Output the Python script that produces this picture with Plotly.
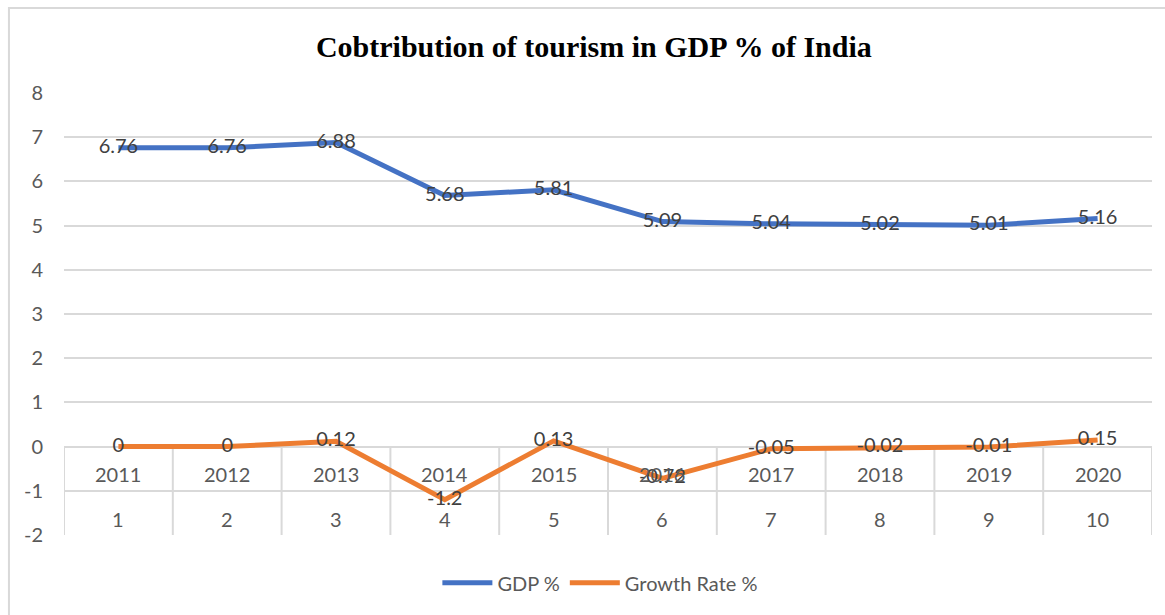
import plotly.graph_objects as go

years = ["2011", "2012", "2013", "2014", "2015", "2016", "2017", "2018", "2019", "2020"]
index_labels = ["1", "2", "3", "4", "5", "6", "7", "8", "9", "10"]
gdp = [6.76, 6.76, 6.88, 5.68, 5.81, 5.09, 5.04, 5.02, 5.01, 5.16]
growth = [0, 0, 0.12, -1.2, 0.13, -0.72, -0.05, -0.02, -0.01, 0.15]
ytick_vals = [-2, -1, 0, 1, 2, 3, 4, 5, 6, 7, 8]
ytick_text = ["-2", "-1", "0", "1", "2", "3", "4", "5", "6", "7", "8"]

xpos = list(range(1, len(years) + 1))
FONT = "Lato, Calibri, Arial, sans-serif"
GRID = "#d9d9d9"
TXT = "#595959"
LBL = "#404040"

fig = go.Figure()
fig.add_trace(go.Scatter(
    x=xpos, y=gdp, name="GDP %", mode="lines+text",
    line=dict(color="#4472C4", width=5),
    text=[f"{v:g}" for v in gdp], textposition="middle center",
    textfont=dict(family=FONT, size=20, color=LBL),
))
fig.add_trace(go.Scatter(
    x=xpos, y=growth, name="Growth Rate %", mode="lines+text",
    line=dict(color="#ED7D31", width=5),
    text=[f"{v:g}" for v in growth], textposition="middle center",
    textfont=dict(family=FONT, size=20, color=LBL),
))

shapes = []
# category table separators
for i in range(len(years) + 1):
    shapes.append(dict(type="line", xref="x", yref="y", x0=i + 0.5, x1=i + 0.5,
                       y0=0, y1=-2, line=dict(color=GRID, width=2), layer="below"))
# outer chart border
shapes.append(dict(type="rect", xref="paper", yref="paper",
                   x0=-0.0506, x1=1.2, y0=-0.4, y1=1.1923,
                   line=dict(color=GRID, width=2), layer="below"))

annotations = []
for i, (yr, ix) in enumerate(zip(years, index_labels)):
    annotations.append(dict(x=i + 1, y=-0.63, xref="x", yref="y", text=yr, showarrow=False,
                            font=dict(family=FONT, size=20, color=TXT)))
    annotations.append(dict(x=i + 1, y=-1.63, xref="x", yref="y", text=ix, showarrow=False,
                            font=dict(family=FONT, size=20, color=TXT)))

fig.update_layout(
    width=1165, height=615,
    margin=dict(l=64, r=13, t=93, b=80),
    paper_bgcolor="white", plot_bgcolor="white",
    title=dict(text="<b>Cobtribution of tourism in GDP % of India</b>",
               font=dict(family="Liberation Serif, Times New Roman, serif", size=30, color="black"),
               x=0.487, xref="paper", xanchor="center", y=1 - 46 / 615, yanchor="middle"),
    xaxis=dict(range=[0.5, 10.5], showticklabels=False, showgrid=False, zeroline=False,
               showline=False, ticks=""),
    yaxis=dict(range=[-2, 8], tickvals=ytick_vals, ticktext=ytick_text,
               showgrid=True, gridcolor=GRID, gridwidth=2,
               zeroline=True, zerolinecolor=GRID, zerolinewidth=2, showline=False,
               tickfont=dict(family=FONT, size=20, color=TXT), ticklabelstandoff=20),
    legend=dict(orientation="h", x=0.493, xanchor="center", y=-0.108, yanchor="middle",
                font=dict(family=FONT, size=20, color=TXT), itemwidth=50),
    shapes=shapes,
    annotations=annotations,
)

fig.write_html("out.html")
